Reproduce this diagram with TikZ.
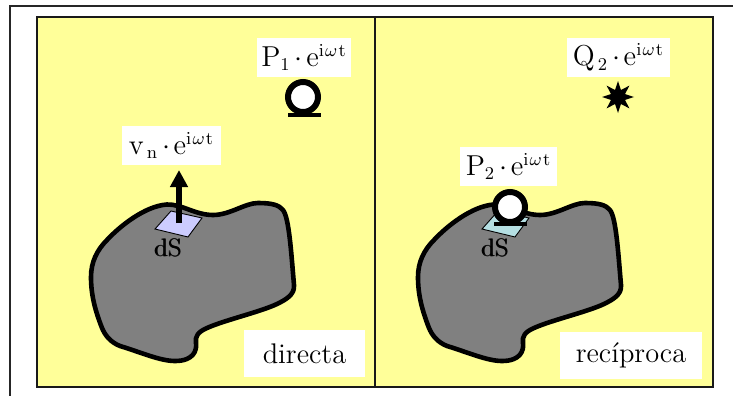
\documentclass[tikz,border=0pt]{standalone}
\usetikzlibrary{arrows.meta,shapes.geometric}
\definecolor{paper}{HTML}{FFFF99}
\definecolor{blobgray}{HTML}{808080}
\definecolor{patchA}{HTML}{CCCCFF}
\definecolor{patchB}{HTML}{B5DFE3}
\tikzset{
  frame/.style={draw=black!90,line width=1pt},
  outerframe/.style={draw=black!85,line width=1pt},
  blob/.style={draw=black,fill=blobgray,line width=2.3pt,line join=round},
  patch/.style={draw=black,line width=0.45pt},
  lab/.style={fill=white,inner sep=0pt,font=\fontsize{13.5}{15}\selectfont},
  caption/.style={fill=white,inner sep=0pt,font=\fontsize{14.2}{16}\selectfont},
  dslab/.style={inner sep=0pt,font=\fontsize{12.6}{14}\selectfont},
  micring/.style={circle,draw=black,fill=white,line width=3pt,minimum size=15pt,inner sep=0pt},
  micbase/.style={draw=black,line width=2pt},
  source/.style={star,star points=8,star point ratio=2.1,fill=black,minimum size=16pt,inner sep=0pt},
  velarrow/.style={-{Triangle[length=8.5pt,width=8.5pt]},line width=2.9pt,draw=black},
}
\newcommand{\blobshape}{(167,204.5) .. controls (182,204) and (195,215) .. (213,215)
 .. controls (230,215) and (245,203) .. (258,203)
 .. controls (272,203) and (279,205) .. (283,210)
 .. controls (289,218) and (291,250) .. (294,285)
 .. controls (295,295) and (285,300) .. (277,304)
 .. controls (260,312) and (225,320) .. (207,328)
 .. controls (198,332) and (195,336) .. (196,343)
 .. controls (197,350) and (194,361) .. (175,361)
 .. controls (160,361) and (140,352) .. (120,346)
 .. controls (110,342) and (105,335) .. (102,328)
 .. controls (95,310) and (91,295) .. (91,277)
 .. controls (91,262) and (97,250) .. (107,240)
 .. controls (120,226) and (145,206) .. (167,204.5) -- cycle}
\newcommand{\dstext}{\rlap{dS}\kern0.45pt dS}
\newcommand{\expo}{\hspace{2pt}{\cdot}\hspace{1.8pt}\mathrm{e}^{\mathrm{i}\hspace{0.6pt}\omega\hspace{0.6pt}\mathrm{t}}}
\begin{document}
\begin{tikzpicture}[x=0.5pt,y=-0.5pt]
\useasboundingbox (0,0) rectangle (733,396);
\fill[white] (0,0) rectangle (733,396);
% outer frame
\coordinate (oa) at (733,5.5); \coordinate (ob) at (9.5,5.5); \coordinate (oc) at (9.5,396);
\draw[outerframe] (oa) -- (ob) -- (oc);
% panels
\draw[frame,fill=paper] (37,17) rectangle (713,387);
\coordinate (da) at (374.5,17); \coordinate (db) at (374.5,387);
\draw[frame] (da) -- (db);
% left panel
\draw[blob] \blobshape;
\draw[patch,fill=patchA] (171,211) -- (202,218) -- (188,237) -- (155,229) -- cycle;
\node[dslab] (dsA) at (168,248) {\dstext};
\coordinate (va) at (179,223); \coordinate (vb) at (179,170);
\draw[velarrow] (va) -- (vb);
\node[lab,minimum width=49.5pt,minimum height=19.5pt] (vlab) at (171.5,145.5) {$\mathrm{v}_{\,\mathrm{n}}\expo$};
\node[lab,minimum width=47pt,minimum height=19.5pt] (p1lab) at (304,57.5) {$\mathrm{P}_{1}\expo$};
\coordinate (ba) at (288,114.7); \coordinate (bb) at (321,114.7);
\draw[micbase] (ba) -- (bb);
\node[micring] (m1) at (303,97) {};
\node[caption,minimum width=60.5pt,minimum height=23.5pt] (dir) at (304.5,353.5) {directa};
% right panel
\begin{scope}[shift={(327,0)}]
\draw[blob] \blobshape;
\draw[patch,fill=patchB] (171,211) -- (202,218) -- (188,237) -- (155,229) -- cycle;
\node[dslab] (dsB) at (168,248) {\dstext};
\end{scope}
\coordinate (bc) at (494,224); \coordinate (bd) at (527,224);
\draw[micbase] (bc) -- (bd);
\node[micring] (m2) at (510,207) {};
\node[lab,minimum width=48.5pt,minimum height=19.5pt] (p2lab) at (508.5,166.5) {$\mathrm{P}_{2}\expo$};
\node[lab,minimum width=51.5pt,minimum height=19.5pt] (q2lab) at (618.5,57.5) {$\mathrm{Q}_{\,2}\expo$};
\node[source] (q2) at (618,97) {};
\node[caption,minimum width=71pt,minimum height=23.5pt] (rec) at (631,355.5) {recíproca};
\end{tikzpicture}
\end{document}
